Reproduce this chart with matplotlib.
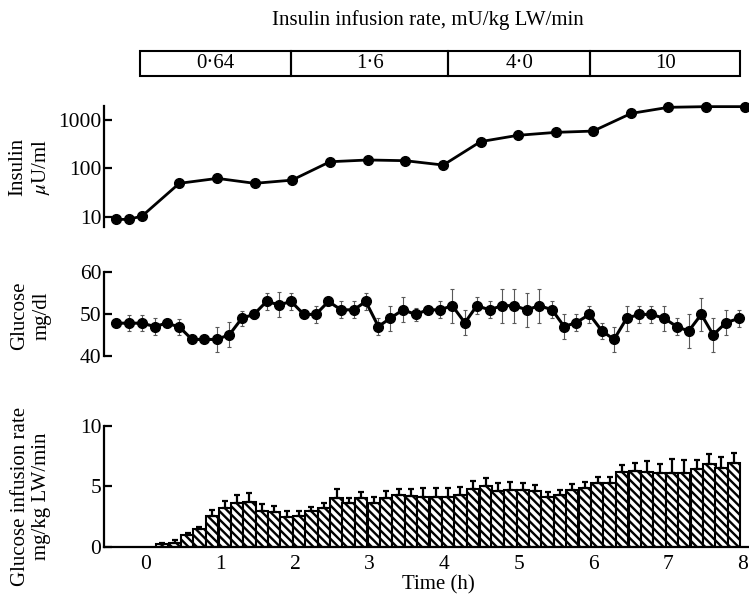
import matplotlib
matplotlib.use('Agg')
import matplotlib.pyplot as plt
from matplotlib.patches import Rectangle
from matplotlib.ticker import NullLocator

# insulin infusion steps (mU/kg LW/min)
step_edges = [-0.08, 1.95, 4.06, 5.96, 7.97]
step_labels = ['0·64', '1·6', '4·0', '10']

# plasma insulin (uU/ml)
ins_time = [-0.40, -0.23, -0.05, 0.45, 0.96, 1.46, 1.96, 2.47, 2.98, 3.48,
            3.99, 4.49, 4.99, 5.50, 6.00, 6.51, 7.01, 7.52, 8.03]
ins = [8.8, 8.8, 10.3, 49, 62, 49, 57, 137, 149, 144,
       117, 357, 482, 555, 590, 1370, 1830, 1890, 1890]

# plasma glucose (mg/dl)
glu_time = [-0.40, -0.22, -0.05, 0.12, 0.28, 0.45, 0.62, 0.78, 0.95,
            1.12, 1.29, 1.45, 1.62, 1.79, 1.95, 2.12, 2.28, 2.45, 2.62, 2.79, 2.95,
            3.12, 3.28, 3.45, 3.62, 3.78, 3.95, 4.11, 4.28, 4.44, 4.61, 4.78, 4.94,
            5.11, 5.28, 5.45, 5.61, 5.77, 5.95, 6.12, 6.28, 6.45, 6.62, 6.78, 6.95,
            7.12, 7.28, 7.45, 7.61, 7.78, 7.96]
glu = [47.8, 47.8, 47.8, 47.0, 47.8, 46.9, 43.9, 43.9, 43.9,
       45.0, 49.0, 49.9, 53.0, 52.2, 53.0, 49.9, 49.9, 53.0, 51.0, 51.0, 53.0,
       47.0, 49.0, 51.0, 49.9, 51.0, 51.0, 52.0, 47.9, 52.0, 51.0, 52.0, 52.0,
       51.0, 52.0, 51.0, 47.0, 47.9, 49.9, 45.9, 43.9, 49.0, 49.9, 49.9, 49.0,
       47.0, 45.9, 49.9, 45.0, 47.9, 49.0]
glu_err = [0.8, 1.9, 1.9, 2.0, 0.8, 2.0, 0.8, 0.8, 3.0,
           3.0, 1.8, 1.0, 2.0, 3.0, 2.0, 0.8, 2.0, 0.8, 2.0, 2.0, 2.0,
           2.0, 3.0, 3.0, 1.5, 0.8, 2.0, 4.1, 3.0, 2.0, 2.0, 4.1, 4.1,
           4.1, 4.1, 2.0, 3.0, 2.0, 2.0, 2.0, 3.0, 3.0, 2.0, 2.0, 3.0,
           2.0, 4.0, 4.0, 4.0, 3.0, 2.0]

# glucose infusion rate (mg/kg LW/min), 10 min periods
gir_time = [0.22, 0.39, 0.56, 0.72, 0.89,
            1.06, 1.22, 1.39, 1.56, 1.72, 1.89,
            2.06, 2.22, 2.39, 2.56, 2.72, 2.89,
            3.06, 3.22, 3.39, 3.56, 3.72, 3.89,
            4.06, 4.22, 4.39, 4.56, 4.72, 4.89,
            5.06, 5.22, 5.39, 5.56, 5.72, 5.89,
            6.06, 6.22, 6.39, 6.56, 6.72, 6.89,
            7.06, 7.22, 7.39, 7.56, 7.72, 7.89]
gir = [0.19, 0.33, 0.96, 1.49, 2.53,
       3.17, 3.58, 3.66, 2.95, 2.84, 2.48,
       2.53, 2.95, 3.17, 3.99, 3.58, 3.99,
       3.58, 3.99, 4.27, 4.21, 4.10, 4.08,
       4.13, 4.27, 4.74, 5.01, 4.60, 4.68,
       4.66, 4.63, 4.08, 4.27, 4.68, 4.82,
       5.26, 5.26, 6.14, 6.23, 6.20, 6.06,
       6.12, 6.06, 6.39, 6.80, 6.53, 6.89]
gir_err = [0.14, 0.22, 0.14, 0.17, 0.50,
           0.60, 0.72, 0.74, 0.60, 0.52, 0.50,
           0.44, 0.33, 0.47, 0.80, 0.47, 0.50,
           0.55, 0.60, 0.47, 0.55, 0.72, 0.74,
           0.69, 0.69, 0.69, 0.69, 0.69, 0.63,
           0.63, 0.50, 0.47, 0.41, 0.52, 0.50,
           0.47, 0.47, 0.60, 0.66, 0.83, 0.74,
           1.13, 1.10, 0.77, 0.85, 0.83, 0.83]

plt.rcParams['font.family'] = 'Liberation Serif'
plt.rcParams['mathtext.fontset'] = 'stix'
plt.rcParams['hatch.linewidth'] = 1.7

FS = 15
W, H = 749, 601
x_lim = (-0.56, 8.09)
left, width = 104 / W, 645 / W


def _style(ax):
    ax.set_xlim(*x_lim)
    for side in ['top', 'right', 'bottom']:
        ax.spines[side].set_visible(False)
    ax.spines['left'].set_linewidth(1.6)
    ax.tick_params(axis='y', direction='in', length=6, width=1.6, labelsize=FS + 0.5, pad=2)
    ax.set_xticks([])
    ax.patch.set_visible(False)


fig = plt.figure(figsize=(W / 100, H / 100), dpi=100)

# infusion step box
ax0 = fig.add_axes([left, 1 - 76 / H, width, 25 / H])
ax0.set_xlim(*x_lim)
ax0.set_ylim(0, 1)
ax0.axis('off')
for i, lab in enumerate(step_labels):
    x1, x2 = step_edges[i], step_edges[i + 1]
    ax0.add_patch(Rectangle((x1, 0), x2 - x1, 1, fill=False, lw=1.5, clip_on=False))
    ax0.text((x1 + x2) / 2, 0.5, lab, ha='center', va='center', fontsize=FS)
fig.text(428 / W, 1 - 20 / H, 'Insulin infusion rate, mU/kg LW/min',
         ha='center', va='center', fontsize=FS)

# insulin
ax1 = fig.add_axes([left, 1 - 226.7 / H, width, 120.7 / H])
_style(ax1)
ax1.set_yscale('log')
ax1.set_ylim(6.21, 1948)
ax1.set_yticks([10, 100, 1000])
ax1.set_yticklabels(['10', '100', '1000'])
ax1.yaxis.set_minor_locator(NullLocator())
ax1.plot(ins_time, ins, '-o', color='black', lw=2, ms=7, clip_on=False)

# glucose
ax2 = fig.add_axes([left, 1 - 355.7 / H, width, 83.4 / H])
_style(ax2)
ax2.set_ylim(40, 60)
ax2.set_yticks([40, 50, 60])
ax2.errorbar(glu_time, glu, yerr=glu_err, fmt='-o', color='black', lw=2.2, ms=7,
             ecolor='0.35', elinewidth=0.8, capsize=1.6, capthick=0.8, clip_on=False)

# glucose infusion rate
ax3 = fig.add_axes([left, 1 - 546.7 / H, width, 121.2 / H])
_style(ax3)
ax3.spines['bottom'].set_visible(True)
ax3.spines['bottom'].set_linewidth(1.6)
ax3.set_ylim(0, 10)
ax3.set_yticks([0, 5, 10])
ax3.set_xticks(range(9))
ax3.tick_params(axis='x', length=0, labelsize=FS + 0.5, pad=6)
ax3.bar(gir_time, gir, width=1 / 6, color='white', edgecolor='black', lw=1.5,
        hatch='\\\\\\\\')
ax3.errorbar(gir_time, gir, yerr=[[0] * len(gir_err), gir_err], fmt='none',
             ecolor='black', elinewidth=1.6, capsize=2, capthick=1.6)
fig.text(438 / W, 1 - 585 / H, 'Time (h)', ha='center', va='center', fontsize=FS)

# y labels
fig.text(30 / W, 1 - 167 / H, 'Insulin\n$\\mu$U/ml', rotation=90, ha='center',
         va='center', multialignment='center', fontsize=FS)
fig.text(31 / W, 1 - 316 / H, 'Glucose\nmg/dl', rotation=90, ha='center',
         va='center', multialignment='center', fontsize=FS)
fig.text(31 / W, 1 - 496 / H, 'Glucose infusion rate\nmg/kg LW/min', rotation=90,
         ha='center', va='center', multialignment='center', fontsize=FS)

fig.savefig('out.png', dpi=100)
